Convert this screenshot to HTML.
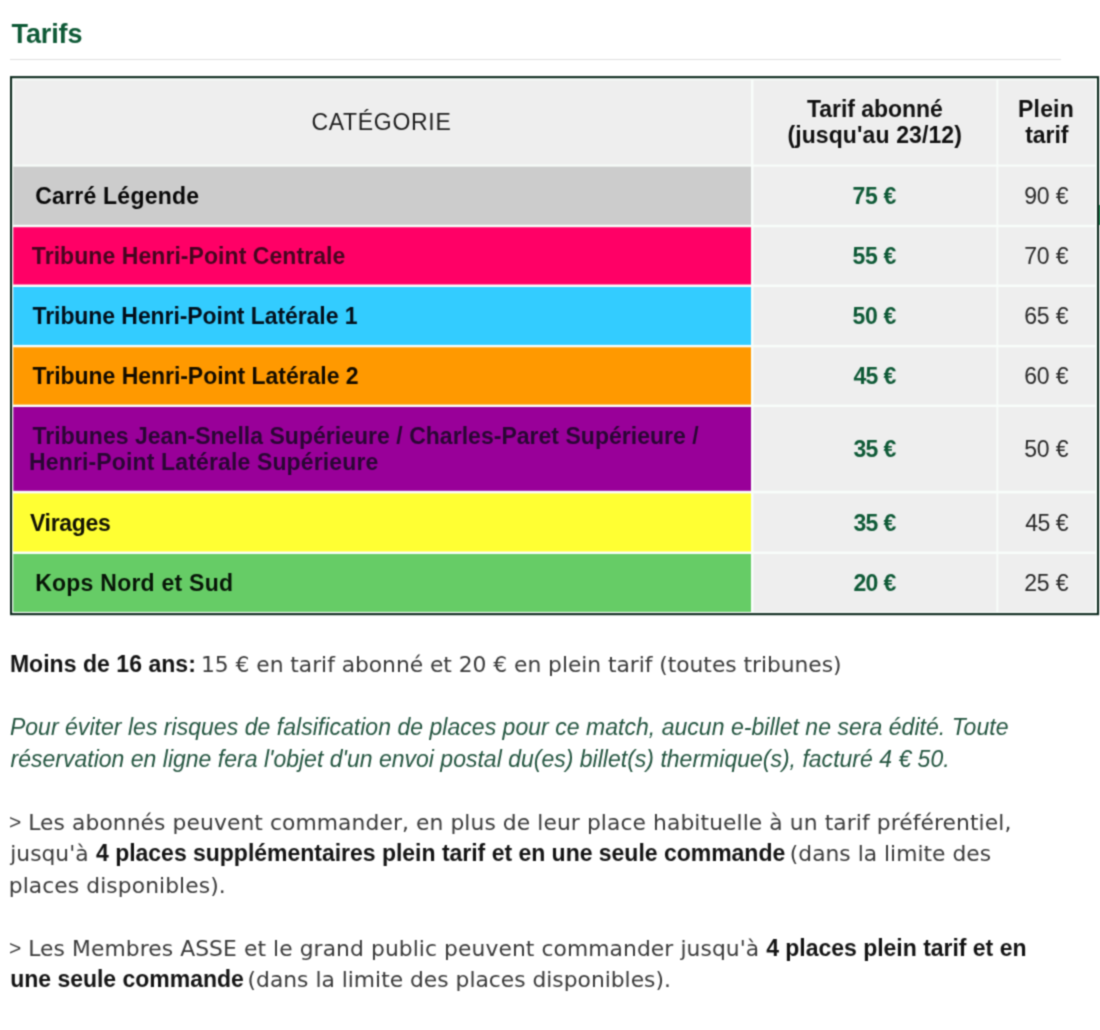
<!DOCTYPE html>
<html lang="fr">
<head>
<meta charset="utf-8">
<title>Tarifs</title>
<style>
html,body{margin:0;padding:0;background:#fff;}
body{width:1100px;height:1030px;position:relative;overflow:hidden;font-family:"Liberation Sans",sans-serif;}
#pg{position:absolute;left:0;top:0;width:1100px;height:1030px;background:#fff;filter:url(#soft);}
.hr{position:absolute;left:10px;top:59px;width:1051px;height:1px;background:#e0e0e0;}
.tbl{position:absolute;left:8px;top:74px;display:block;}
.t{position:absolute;margin:0;white-space:nowrap;line-height:40px;font-weight:normal;font-style:normal;}
.ls{font-family:"Liberation Sans",sans-serif;}
.dv{font-family:"DejaVu Sans","Liberation Sans",sans-serif;}
.bd,b.t,h2.t{font-weight:bold;}
i.t{font-style:italic;}
.g,.grid,.row,.cell{margin:0;padding:0;position:static;}
.mark{position:absolute;left:1099px;top:205px;width:1px;height:20px;background:#2f8a5a;}
</style>
</head>
<body>
<svg width="0" height="0" style="position:absolute"><defs><filter id="soft" x="0" y="0" width="100%" height="100%" color-interpolation-filters="sRGB"><feConvolveMatrix order="3" kernelMatrix="0.0400 0.1200 0.0400 0.1200 0.3600 0.1200 0.0400 0.1200 0.0400" edgeMode="duplicate" preserveAlpha="true"/></filter></defs></svg>
<div id="pg">
<div class="hr"></div>
<svg class="tbl" width="1092" height="543" viewBox="0 0 1092 543">
<rect x="3.05" y="3.15" width="1087.00" height="537.00" fill="#f8fdfa" stroke="#0e2a1e" stroke-width="2.1"/>
<rect x="6.2" y="6.2" width="736.8" height="84.4" fill="#eeeeee"/>
<rect x="745.5" y="6.2" width="242.9" height="84.4" fill="#eeeeee"/>
<rect x="990.3" y="6.2" width="97.1" height="84.4" fill="#eeeeee"/>
<rect x="5.3" y="92.6" width="737.7" height="58.2" fill="#cccccc"/>
<rect x="745.5" y="92.6" width="242.9" height="58.2" fill="#eeeeee"/>
<rect x="990.3" y="92.6" width="97.1" height="58.2" fill="#eeeeee"/>
<rect x="5.3" y="153.2" width="737.7" height="57.3" fill="#ff0066"/>
<rect x="745.5" y="153.2" width="242.9" height="57.3" fill="#eeeeee"/>
<rect x="990.3" y="153.2" width="97.1" height="57.3" fill="#eeeeee"/>
<rect x="5.3" y="213.0" width="737.7" height="57.9" fill="#33ccff"/>
<rect x="745.5" y="213.0" width="242.9" height="57.9" fill="#eeeeee"/>
<rect x="990.3" y="213.0" width="97.1" height="57.9" fill="#eeeeee"/>
<rect x="5.3" y="273.3" width="737.7" height="57.3" fill="#ff9900"/>
<rect x="745.5" y="273.3" width="242.9" height="57.3" fill="#eeeeee"/>
<rect x="990.3" y="273.3" width="97.1" height="57.3" fill="#eeeeee"/>
<rect x="5.3" y="333.0" width="737.7" height="83.8" fill="#990099"/>
<rect x="745.5" y="333.0" width="242.9" height="83.8" fill="#eeeeee"/>
<rect x="990.3" y="333.0" width="97.1" height="83.8" fill="#eeeeee"/>
<rect x="5.3" y="419.4" width="737.7" height="58.1" fill="#ffff33"/>
<rect x="745.5" y="419.4" width="242.9" height="58.1" fill="#eeeeee"/>
<rect x="990.3" y="419.4" width="97.1" height="58.1" fill="#eeeeee"/>
<rect x="5.3" y="480.0" width="737.7" height="57.9" fill="#66cc66"/>
<rect x="745.5" y="480.0" width="242.9" height="57.9" fill="#eeeeee"/>
<rect x="990.3" y="480.0" width="97.1" height="57.9" fill="#eeeeee"/>
</svg>
<div class="mark"></div>
<h2 class="t ls" style="left:11.5px;top:14px;font-size:27px;color:#0f5a37;letter-spacing:-0.100px;">Tarifs</h2>
<div class="grid">
<div class="row head">
 <div class="cell"><span class="t ls" style="left:311.4px;top:102px;font-size:23px;color:#1e1e1e;letter-spacing:0.700px;">CATÉGORIE</span></div>
 <div class="cell"><span class="t ls bd" style="left:807.0px;top:89px;font-size:23px;color:#111111;letter-spacing:-0.055px;">Tarif abonné</span> <span class="t ls bd" style="left:787.4px;top:115px;font-size:23px;color:#111111;letter-spacing:0.107px;">(jusqu'au 23/12)</span></div>
 <div class="cell"><span class="t ls bd" style="left:1018.0px;top:89px;font-size:23px;color:#111111;letter-spacing:0.200px;">Plein</span> <span class="t ls bd" style="left:1025.2px;top:115px;font-size:23px;color:#111111;letter-spacing:-0.050px;">tarif</span></div>
</div>
<div class="row">
 <div class="cell"><span class="t ls bd" style="left:35.2px;top:176px;font-size:23px;color:#080808;letter-spacing:0.233px;">Carré Légende</span></div>
 <div class="cell"><span class="t ls bd" style="left:852.4px;top:176px;font-size:23px;color:#0f5a37;letter-spacing:-0.267px;">75 €</span></div>
 <div class="cell"><span class="t ls" style="left:1024.2px;top:176px;font-size:23px;color:#2a2a2a;letter-spacing:-0.167px;">90 €</span></div>
</div>
<div class="row">
 <div class="cell"><span class="t ls bd" style="left:31.8px;top:236px;font-size:23px;color:#45061f;letter-spacing:0.063px;">Tribune Henri-Point Centrale</span></div>
 <div class="cell"><span class="t ls bd" style="left:852.4px;top:236px;font-size:23px;color:#0f5a37;letter-spacing:-0.267px;">55 €</span></div>
 <div class="cell"><span class="t ls" style="left:1024.2px;top:236px;font-size:23px;color:#2a2a2a;letter-spacing:-0.167px;">70 €</span></div>
</div>
<div class="row">
 <div class="cell"><span class="t ls bd" style="left:32.5px;top:296px;font-size:23px;color:#04101c;letter-spacing:-0.076px;">Tribune Henri-Point Latérale 1</span></div>
 <div class="cell"><span class="t ls bd" style="left:852.4px;top:296px;font-size:23px;color:#0f5a37;letter-spacing:-0.267px;">50 €</span></div>
 <div class="cell"><span class="t ls" style="left:1024.2px;top:296px;font-size:23px;color:#2a2a2a;letter-spacing:-0.167px;">65 €</span></div>
</div>
<div class="row">
 <div class="cell"><span class="t ls bd" style="left:32.5px;top:356px;font-size:23px;color:#140c00;letter-spacing:-0.038px;">Tribune Henri-Point Latérale 2</span></div>
 <div class="cell"><span class="t ls bd" style="left:853.4px;top:356px;font-size:23px;color:#0f5a37;letter-spacing:-0.600px;">45 €</span></div>
 <div class="cell"><span class="t ls" style="left:1024.2px;top:356px;font-size:23px;color:#2a2a2a;letter-spacing:-0.167px;">60 €</span></div>
</div>
<div class="row">
 <div class="cell"><span class="t ls bd" style="left:32.5px;top:416px;font-size:23px;color:#2a0634;letter-spacing:0.025px;">Tribunes Jean-Snella Supérieure / Charles-Paret Supérieure /</span> <span class="t ls bd" style="left:29.0px;top:442px;font-size:23px;color:#2a0634;letter-spacing:0.143px;">Henri-Point Latérale Supérieure</span></div>
 <div class="cell"><span class="t ls bd" style="left:853.4px;top:429px;font-size:23px;color:#0f5a37;letter-spacing:-0.600px;">35 €</span></div>
 <div class="cell"><span class="t ls" style="left:1024.2px;top:429px;font-size:23px;color:#2a2a2a;letter-spacing:-0.167px;">50 €</span></div>
</div>
<div class="row">
 <div class="cell"><span class="t ls bd" style="left:30.0px;top:503px;font-size:23px;color:#121205;letter-spacing:-0.333px;">Virages</span></div>
 <div class="cell"><span class="t ls bd" style="left:853.4px;top:503px;font-size:23px;color:#0f5a37;letter-spacing:-0.600px;">35 €</span></div>
 <div class="cell"><span class="t ls" style="left:1025.2px;top:503px;font-size:23px;color:#2a2a2a;letter-spacing:-0.500px;">45 €</span></div>
</div>
<div class="row">
 <div class="cell"><span class="t ls bd" style="left:35.2px;top:563px;font-size:23px;color:#081608;letter-spacing:0.240px;">Kops Nord et Sud</span></div>
 <div class="cell"><span class="t ls bd" style="left:853.4px;top:563px;font-size:23px;color:#0f5a37;letter-spacing:-0.600px;">20 €</span></div>
 <div class="cell"><span class="t ls" style="left:1024.2px;top:563px;font-size:23px;color:#2a2a2a;letter-spacing:-0.167px;">25 €</span></div>
</div>
</div>
<p class="g">
 <b class="t ls" style="left:9.9px;top:644px;font-size:23px;color:#141414;letter-spacing:0.040px;">Moins de 16 ans:</b>
 <span class="t dv" style="left:201.0px;top:645px;font-size:21.8px;color:#3a3a3a;letter-spacing:-0.033px;">15 € en tarif abonné et 20 € en plein tarif (toutes tribunes)</span>
</p>
<p class="g">
 <i class="t ls" style="left:9.9px;top:707px;font-size:23px;color:#245540;letter-spacing:0.035px;">Pour éviter les risques de falsification de places pour ce match, aucun e-billet ne sera édité. Toute</i>
 <i class="t ls" style="left:10.5px;top:739px;font-size:23px;color:#245540;letter-spacing:0.009px;">réservation en ligne fera l'objet d'un envoi postal du(es) billet(s) thermique(s), facturé 4 € 50.</i>
</p>
<p class="g">
 <span class="t ls" style="left:8.9px;top:802px;font-size:21px;color:#3a3a3a;">&gt;</span>
 <span class="t dv" style="left:28.2px;top:803px;font-size:21.8px;color:#3a3a3a;letter-spacing:0.091px;">Les abonnés peuvent commander, en plus de leur place habituelle à un tarif préférentiel,</span>
 <span class="t dv" style="left:10.3px;top:834px;font-size:21.8px;color:#3a3a3a;">jusqu'à</span>
 <b class="t ls" style="left:96.0px;top:833px;font-size:23px;color:#141414;letter-spacing:-0.017px;">4 places supplémentaires plein tarif et en une seule commande</b>
 <span class="t dv" style="left:789.8px;top:834px;font-size:21.8px;color:#3a3a3a;letter-spacing:0.011px;">(dans la limite des</span>
 <span class="t dv" style="left:8.8px;top:866px;font-size:21.8px;color:#3a3a3a;letter-spacing:0.084px;">places disponibles).</span>
</p>
<p class="g">
 <span class="t ls" style="left:8.9px;top:928px;font-size:21px;color:#3a3a3a;">&gt;</span>
 <span class="t dv" style="left:28.2px;top:929px;font-size:21.8px;color:#3a3a3a;letter-spacing:0.088px;">Les Membres ASSE et le grand public peuvent commander jusqu'à</span>
 <b class="t ls" style="left:766.2px;top:928px;font-size:23px;color:#141414;letter-spacing:-0.020px;">4 places plein tarif et en</b>
 <b class="t ls" style="left:10.2px;top:959px;font-size:23px;color:#141414;letter-spacing:-0.018px;">une seule commande</b>
 <span class="t dv" style="left:247.6px;top:960px;font-size:21.8px;color:#3a3a3a;">(dans la limite des places disponibles).</span>
</p>
</div>
</body>
</html>
